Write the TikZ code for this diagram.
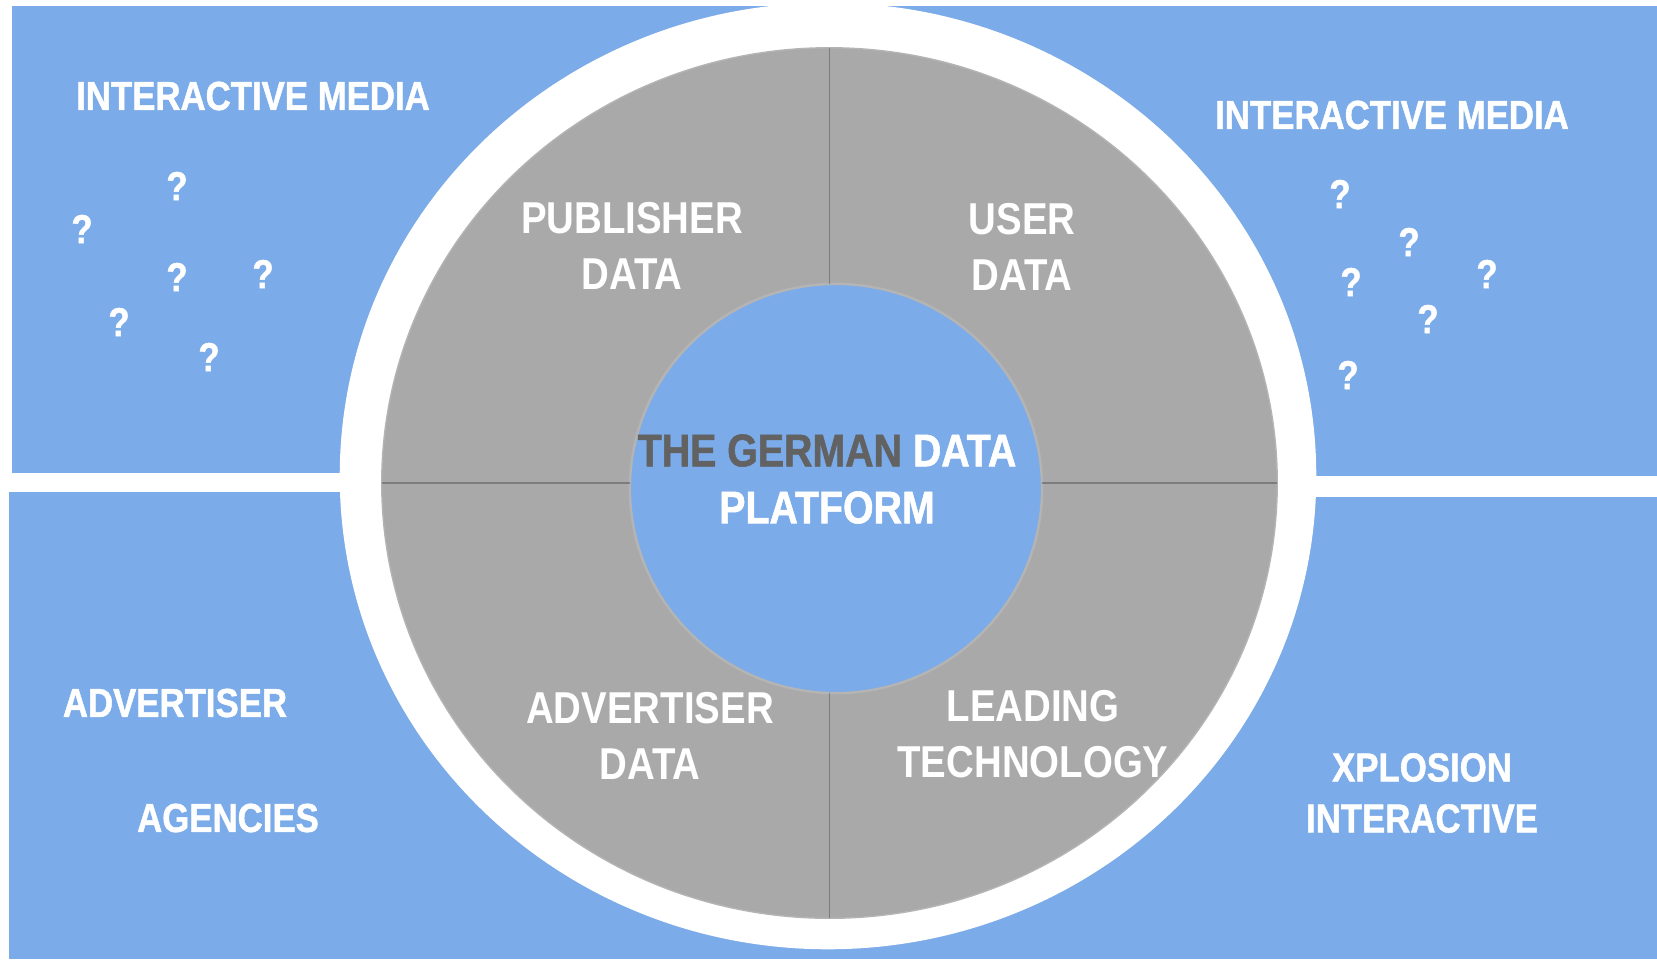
\documentclass[tikz,border=0pt]{standalone}
\usepackage{fontspec}
\setmainfont{Liberation Sans}[FakeStretch=0.86]
\newfontfamily\heavyfont{Liberation Sans}[FakeStretch=0.86, BoldFeatures={FakeBold=1.2}]
\usetikzlibrary{shapes.geometric}

\definecolor{panelblue}{RGB}{123,171,232}
\definecolor{discgrey}{RGB}{169,169,169}
\definecolor{titlegrey}{RGB}{98,98,98}
\definecolor{rimgrey}{RGB}{180,180,180}
\definecolor{linegrey}{RGB}{125,125,125}

\tikzset{
  bluepanel/.style={fill=panelblue},
  disc/.style={ellipse, inner sep=0pt, outer sep=0pt},
  divider/.style={draw=linegrey, line width=0.5pt},
  boxlabel/.style={text=white, font=\fontsize{11.5}{14.5}\selectfont\heavyfont\bfseries, align=center, inner sep=0pt},
  disclabel/.style={text=white, font=\fontsize{12.7}{15.9}\selectfont\bfseries, align=center, inner sep=0pt},
  titlelabel/.style={text=white, font=\fontsize{13}{16.2}\selectfont\heavyfont\bfseries, align=center, inner sep=0pt},
  qmark/.style={boxlabel}
}

\begin{document}
\begin{tikzpicture}[x=0.01cm, y=-0.01cm]
\useasboundingbox (0,0) rectangle (1657,959);
\fill[bluepanel] (12,6) rectangle (829,473);
\fill[bluepanel] (829,6) rectangle (1657,476);
\fill[bluepanel] (9,492) rectangle (829,959);
\fill[bluepanel] (829,497) rectangle (1657,959);
\node[disc, fill=white, minimum width=9.76cm, minimum height=9.46cm] (rim) at (828,476) {};
\node[disc, fill=discgrey, draw=rimgrey, line width=0.4pt, minimum width=8.95cm, minimum height=8.70cm] (disk) at (829.5,483) {};
\node[disc, fill=panelblue, draw=rimgrey, line width=0.7pt, minimum width=4.12cm, minimum height=4.09cm] (hub) at (836,488.5) {};
\draw[divider] (disk.north) -- (disk.north |- hub.north);
\draw[divider] (disk.south) -- (disk.south |- hub.south);
\draw[divider] (disk.west) -- (disk.west -| hub.west);
\draw[divider] (disk.east) -- (disk.east -| hub.east);
\node[titlelabel] (platform) at (827,479) {\textcolor{titlegrey}{THE GERMAN} DATA\\PLATFORM};
\node[disclabel] (publisher) at (632,245.5) {PUBLISHER\\DATA};
\node[disclabel] (user) at (1022,246.5) {USER\\DATA};
\node[disclabel] (advdata) at (650,735.5) {ADVERTISER\\DATA};
\node[disclabel] (leading) at (1033,734.5) {LEADING\\TECHNOLOGY};
\node[boxlabel] (media1) at (253,96) {INTERACTIVE MEDIA};
\node[boxlabel] (media2) at (1392,115) {INTERACTIVE MEDIA};
\node[boxlabel] (advertiser) at (175,703) {ADVERTISER};
\node[boxlabel] (agencies) at (228,818) {AGENCIES};
\node[boxlabel] (xplosion) at (1422,793) {XPLOSION\\INTERACTIVE};
\node[qmark] (q1) at (177,186) {?};
\node[qmark] (q2) at (82,229) {?};
\node[qmark] (q3) at (177,277) {?};
\node[qmark] (q4) at (263,274) {?};
\node[qmark] (q5) at (119,322) {?};
\node[qmark] (q6) at (209,357) {?};
\node[qmark] (q7) at (1340,194) {?};
\node[qmark] (q8) at (1409,242) {?};
\node[qmark] (q9) at (1351,282) {?};
\node[qmark] (q10) at (1487,274) {?};
\node[qmark] (q11) at (1428,319) {?};
\node[qmark] (q12) at (1348,375) {?};
\end{tikzpicture}
\end{document}
